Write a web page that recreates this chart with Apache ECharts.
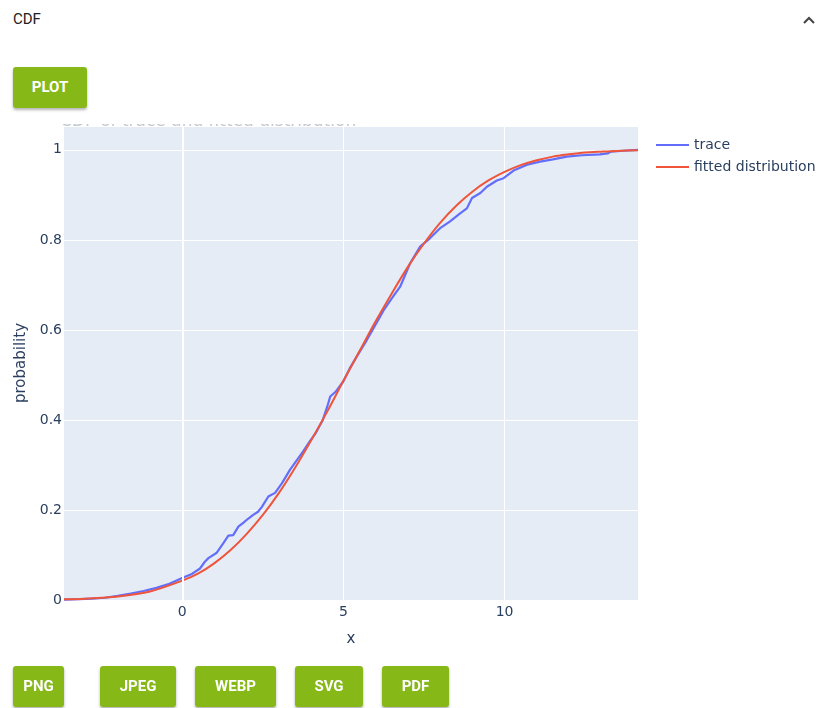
<!DOCTYPE html>
<html>
<head>
<meta charset="utf-8">
<script src="https://cdn.jsdelivr.net/npm/echarts@6/dist/echarts.min.js"></script>
<style>
  html, body { margin: 0; padding: 0; background: #fff; width: 820px; height: 708px; overflow: hidden; font-family: Roboto, "Noto Sans", sans-serif; }
  .head { position: absolute; left: 13px; top: 10px; font-size: 15px; color: #222; }
  .chev { position: absolute; left: 802px; top: 15px; }
  .btn { position: absolute; height: 41px; line-height: 41px; background: #86b817; color: #fff; font-weight: 700; font-size: 15px; text-align: center; border-radius: 3px; box-shadow: 0 2px 3px rgba(0,0,0,0.3); }
  #chart { position: absolute; left: 0; top: 124px; width: 820px; height: 584px; }
</style>
</head>
<body>
<div class="head">CDF</div>
<svg class="chev" width="14" height="10"><polyline points="2,8 7,3 12,8" fill="none" stroke="#444" stroke-width="2"/></svg>
<div class="btn" style="left:13px;top:67px;width:74px;">PLOT</div>
<div id="chart"></div>
<div class="btn" style="left:13px;top:666px;width:51px;">PNG</div>
<div class="btn" style="left:100px;top:666px;width:76px;">JPEG</div>
<div class="btn" style="left:195px;top:666px;width:81px;">WEBP</div>
<div class="btn" style="left:295px;top:666px;width:68px;">SVG</div>
<div class="btn" style="left:382px;top:666px;width:67px;">PDF</div>
<script>
// empirical CDF of the trace
const traceX = [-3.67, -3.2, -2.8, -2.4, -2.0, -1.6, -1.2, -0.8, -0.4, 0.03, 0.3, 0.55, 0.7, 0.81, 1.07, 1.27, 1.43, 1.58, 1.74, 1.9,
  2.05, 2.2, 2.35, 2.47, 2.67, 2.88, 3.09, 3.34, 3.55, 3.75, 3.95, 4.15, 4.35, 4.5, 4.59, 4.75, 5.0, 5.2, 5.45, 5.73,
  6.0, 6.25, 6.5, 6.76, 7.07, 7.38, 7.69, 8.0, 8.31, 8.62, 8.83, 8.99, 9.25, 9.45, 9.76, 9.97, 10.28, 10.7, 11.1, 11.5,
  11.93, 12.4, 12.96, 13.2, 13.3, 13.7, 14.14];
const traceY = [0.001, 0.002, 0.003, 0.005, 0.009, 0.014, 0.020, 0.027, 0.036, 0.050, 0.058, 0.070, 0.085, 0.093, 0.105, 0.126, 0.143, 0.144, 0.163, 0.172,
  0.181, 0.189, 0.196, 0.207, 0.230, 0.238, 0.259, 0.289, 0.310, 0.330, 0.352, 0.372, 0.398, 0.430, 0.452, 0.462, 0.486, 0.515, 0.545, 0.578,
  0.612, 0.644, 0.670, 0.696, 0.748, 0.785, 0.804, 0.826, 0.841, 0.859, 0.870, 0.893, 0.904, 0.918, 0.932, 0.937, 0.954, 0.967, 0.974, 0.979,
  0.985, 0.988, 0.990, 0.992, 0.996, 0.998, 1.0];

// fitted distribution
const fitX = [-3.67, -3, -2, -1, 0, 0.5, 1, 1.5, 2, 2.5, 3, 3.5, 4, 4.5, 5, 5.5, 6, 6.5, 7, 7.5, 8, 8.5, 9, 9.5, 10, 10.5, 11, 11.5, 12, 12.5, 13, 13.5, 14.14];
const fitY = [0.0015, 0.003, 0.008, 0.019, 0.043, 0.059, 0.082, 0.111, 0.147, 0.189, 0.238, 0.294, 0.355, 0.419, 0.487, 0.553, 0.619, 0.681, 0.740, 0.792,
  0.838, 0.876, 0.907, 0.932, 0.951, 0.966, 0.977, 0.985, 0.990, 0.994, 0.996, 0.9977, 0.999];

const xTicks = [0, 5, 10];

const zip = (a, b) => a.map((v, i) => [v, b[i]]);
const txt = '#2a3f5f';
const font = 'DejaVu Sans, Verdana, sans-serif';

const chart = echarts.init(document.getElementById('chart'));
chart.setOption({
  animation: false,
  title: {
    text: 'CDF of trace and fitted distribution',
    left: 55, top: -16,
    textStyle: { color: '#c4c8d0', fontSize: 17, fontWeight: 'normal', fontFamily: font }
  },
  legend: {
    orient: 'vertical',
    left: 651, top: 9,
    itemWidth: 33, itemHeight: 2, itemGap: 8,
    icon: 'rect',
    textStyle: { color: txt, fontSize: 14, fontFamily: font },
    data: ['trace', 'fitted distribution']
  },
  grid: {
    left: 64, right: 182, top: 2, bottom: 108,
    show: true, backgroundColor: '#e5ecf6', borderWidth: 0
  },
  xAxis: {
    type: 'value',
    min: -3.67, max: 14.14,
    name: 'x', nameLocation: 'middle', nameGap: 32,
    nameTextStyle: { color: txt, fontSize: 15, fontFamily: font },
    axisLine: { show: false },
    axisTick: { show: false, customValues: xTicks },
    axisLabel: { customValues: xTicks, color: txt, fontSize: 14, fontFamily: font, margin: 5 },
    splitLine: { show: true, lineStyle: { color: '#fff', width: 1 } }
  },
  yAxis: {
    type: 'value',
    min: 0, max: 1.053, interval: 0.2,
    name: 'probability', nameLocation: 'middle', nameGap: 32,
    nameTextStyle: { color: txt, fontSize: 15, fontFamily: font },
    axisLine: { show: false },
    axisTick: { show: false },
    axisLabel: { color: txt, fontSize: 14, fontFamily: font, margin: 2, showMaxLabel: false },
    splitLine: { show: true, lineStyle: { color: '#fff', width: 1 } }
  },
  series: [
    {
      name: 'trace', type: 'line', data: zip(traceX, traceY),
      showSymbol: false, symbol: 'none',
      lineStyle: { color: '#636efa', width: 2.2 }, itemStyle: { color: '#636efa' },
      markLine: {
        silent: true, symbol: 'none', label: { show: false },
        lineStyle: { color: '#fff', width: 2, type: 'solid' },
        data: [{ xAxis: 0 }]
      }
    },
    {
      name: 'fitted distribution', type: 'line', data: zip(fitX, fitY),
      showSymbol: false, symbol: 'none', smooth: 0.3,
      lineStyle: { color: '#ef553b', width: 2 }, itemStyle: { color: '#ef553b' }
    }
  ]
});
</script>
</body>
</html>
